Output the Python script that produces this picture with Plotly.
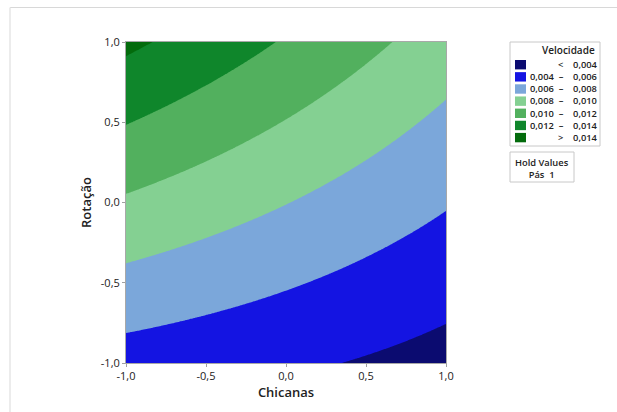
import numpy as np
import plotly.graph_objects as go

# Fitted response surface for Velocidade (coded units), Pás held at 1
# Velocidade = b0 + b1*Chicanas + b2*Rotação + b11*Chicanas^2 + b22*Rotação^2 + b12*Chicanas*Rotação
coef_names = ["b0", "b1", "b2", "b11", "b22", "b12"]
coef_values = [0.00805, -0.00180, 0.00375, -0.0001, 0.00003, -0.000885]

chicanas = np.linspace(-1, 1, 241)
rotacao = np.linspace(-1, 1, 241)

contour_levels = [0.004, 0.006, 0.008, 0.010, 0.012, 0.014]
band_labels = [("", "<", "0,004"), ("0,004", "–", "0,006"), ("0,006", "–", "0,008"),
               ("0,008", "–", "0,010"), ("0,010", "–", "0,012"), ("0,012", "–", "0,014"),
               ("", ">", "0,014")]
band_colors = ["#0b0b70", "#1414e2", "#7ba7da", "#84d092", "#52b05e", "#0f862b", "#036b0c"]

tick_vals = [-1.0, -0.5, 0.0, 0.5, 1.0]
tick_text = ["-1,0", "-0,5", "0,0", "0,5", "1,0"]

hold_factor = "Pás"
hold_value = "1"

b = dict(zip(coef_names, coef_values))
X, Y = np.meshgrid(chicanas, rotacao)
Z = (b["b0"] + b["b1"] * X + b["b2"] * Y + b["b11"] * X ** 2
     + b["b22"] * Y ** 2 + b["b12"] * X * Y)

step = contour_levels[1] - contour_levels[0]
zmin = contour_levels[0] - step / 2
zmax = contour_levels[-1] + step / 2
n = len(band_colors)
colorscale = [[i / (n - 1), c] for i, c in enumerate(band_colors)]

fig = go.Figure()
fig.add_trace(go.Contour(
    x=chicanas, y=rotacao, z=Z,
    autocontour=False,
    contours=dict(start=contour_levels[0], end=contour_levels[-1], size=step, coloring="fill"),
    colorscale=colorscale, zmin=zmin, zmax=zmax,
    line=dict(width=0),
    showscale=False, hoverinfo="skip",
))

W, H = 617, 412
L, R, T, B = 126, 446, 42, 363


def px(xp):
    return (xp - L) / (R - L)


def py(yp):
    return (B - yp) / (B - T)


axis_common = dict(
    range=[-1, 1], tickvals=tick_vals, ticktext=tick_text,
    ticks="outside", ticklen=3, tickcolor="#a0a0a0", tickwidth=1,
    showline=True, linecolor="#a8a8a8", linewidth=1, mirror=True,
    showgrid=False, zeroline=False,
    tickfont=dict(family="Open Sans", size=11, color="#222222"),
)

shapes = []
annotations = []

# outer frame
shapes.append(dict(type="line", xref="paper", yref="paper", x0=px(10), x1=px(617), y0=py(7.5), y1=py(7.5),
                   line=dict(color="#d8d8d8", width=1)))
shapes.append(dict(type="line", xref="paper", yref="paper", x0=px(10), x1=px(10), y0=py(7.5), y1=py(412),
                   line=dict(color="#e6e6e6", width=1.5)))

row0, pitch = 64.7, 12.15
legend_font = dict(family="Open Sans", size=pitch / 1.3, color="#222222", weight=600)
NB = "\u00a0"

# legend box with colour swatches
shapes.append(dict(type="rect", xref="paper", yref="paper", x0=px(510), x1=px(600), y0=py(42), y1=py(146),
                   line=dict(color="#c8c8c8", width=1), fillcolor="white"))
annotations.append(dict(text="Velocidade", xref="paper", yref="paper", x=px(568), y=py(50.5),
                        showarrow=False, xanchor="center", yanchor="middle", borderpad=0,
                        font=dict(legend_font, size=10)))
rows = []
for i, (lo, sym, hi) in enumerate(band_labels):
    yc = row0 + i * pitch
    shapes.append(dict(type="rect", xref="paper", yref="paper", x0=px(515), x1=px(526),
                       y0=py(yc + 4.7), y1=py(yc - 4.7), line=dict(width=0), fillcolor=band_colors[i]))
    if lo:
        rows.append(lo + NB * 2 + sym + NB * 4 + hi)
    else:
        rows.append(sym + NB * 4 + hi)
annotations.append(dict(text="<br>".join(rows), xref="paper", yref="paper", x=px(599),
                        y=py(row0 + 3 * pitch), showarrow=False, xanchor="right", yanchor="middle",
                        align="right", borderpad=0, font=legend_font))

# hold values box
shapes.append(dict(type="rect", xref="paper", yref="paper", x0=px(510), x1=px(574), y0=py(152), y1=py(182),
                   line=dict(color="#c8c8c8", width=1), fillcolor="white"))
annotations.append(dict(text=f"Hold Values<br>{hold_factor}{NB * 2}{hold_value}", xref="paper", yref="paper",
                        x=px(542), y=py(168.5), showarrow=False, xanchor="center", yanchor="middle",
                        align="center", borderpad=0, font=legend_font))

fig.update_layout(
    width=W, height=H,
    margin=dict(l=L, r=W - R, t=T, b=H - B),
    paper_bgcolor="white", plot_bgcolor="white",
    xaxis=dict(axis_common,
               title=dict(text="Chicanas", standoff=2,
                          font=dict(family="Open Sans", size=13, color="#222222", weight=600))),
    yaxis=dict(axis_common,
               title=dict(text="Rotação", standoff=6,
                          font=dict(family="Open Sans", size=13, color="#222222", weight=600))),
    shapes=shapes, annotations=annotations,
    showlegend=False,
)

fig.write_html("out.html")
